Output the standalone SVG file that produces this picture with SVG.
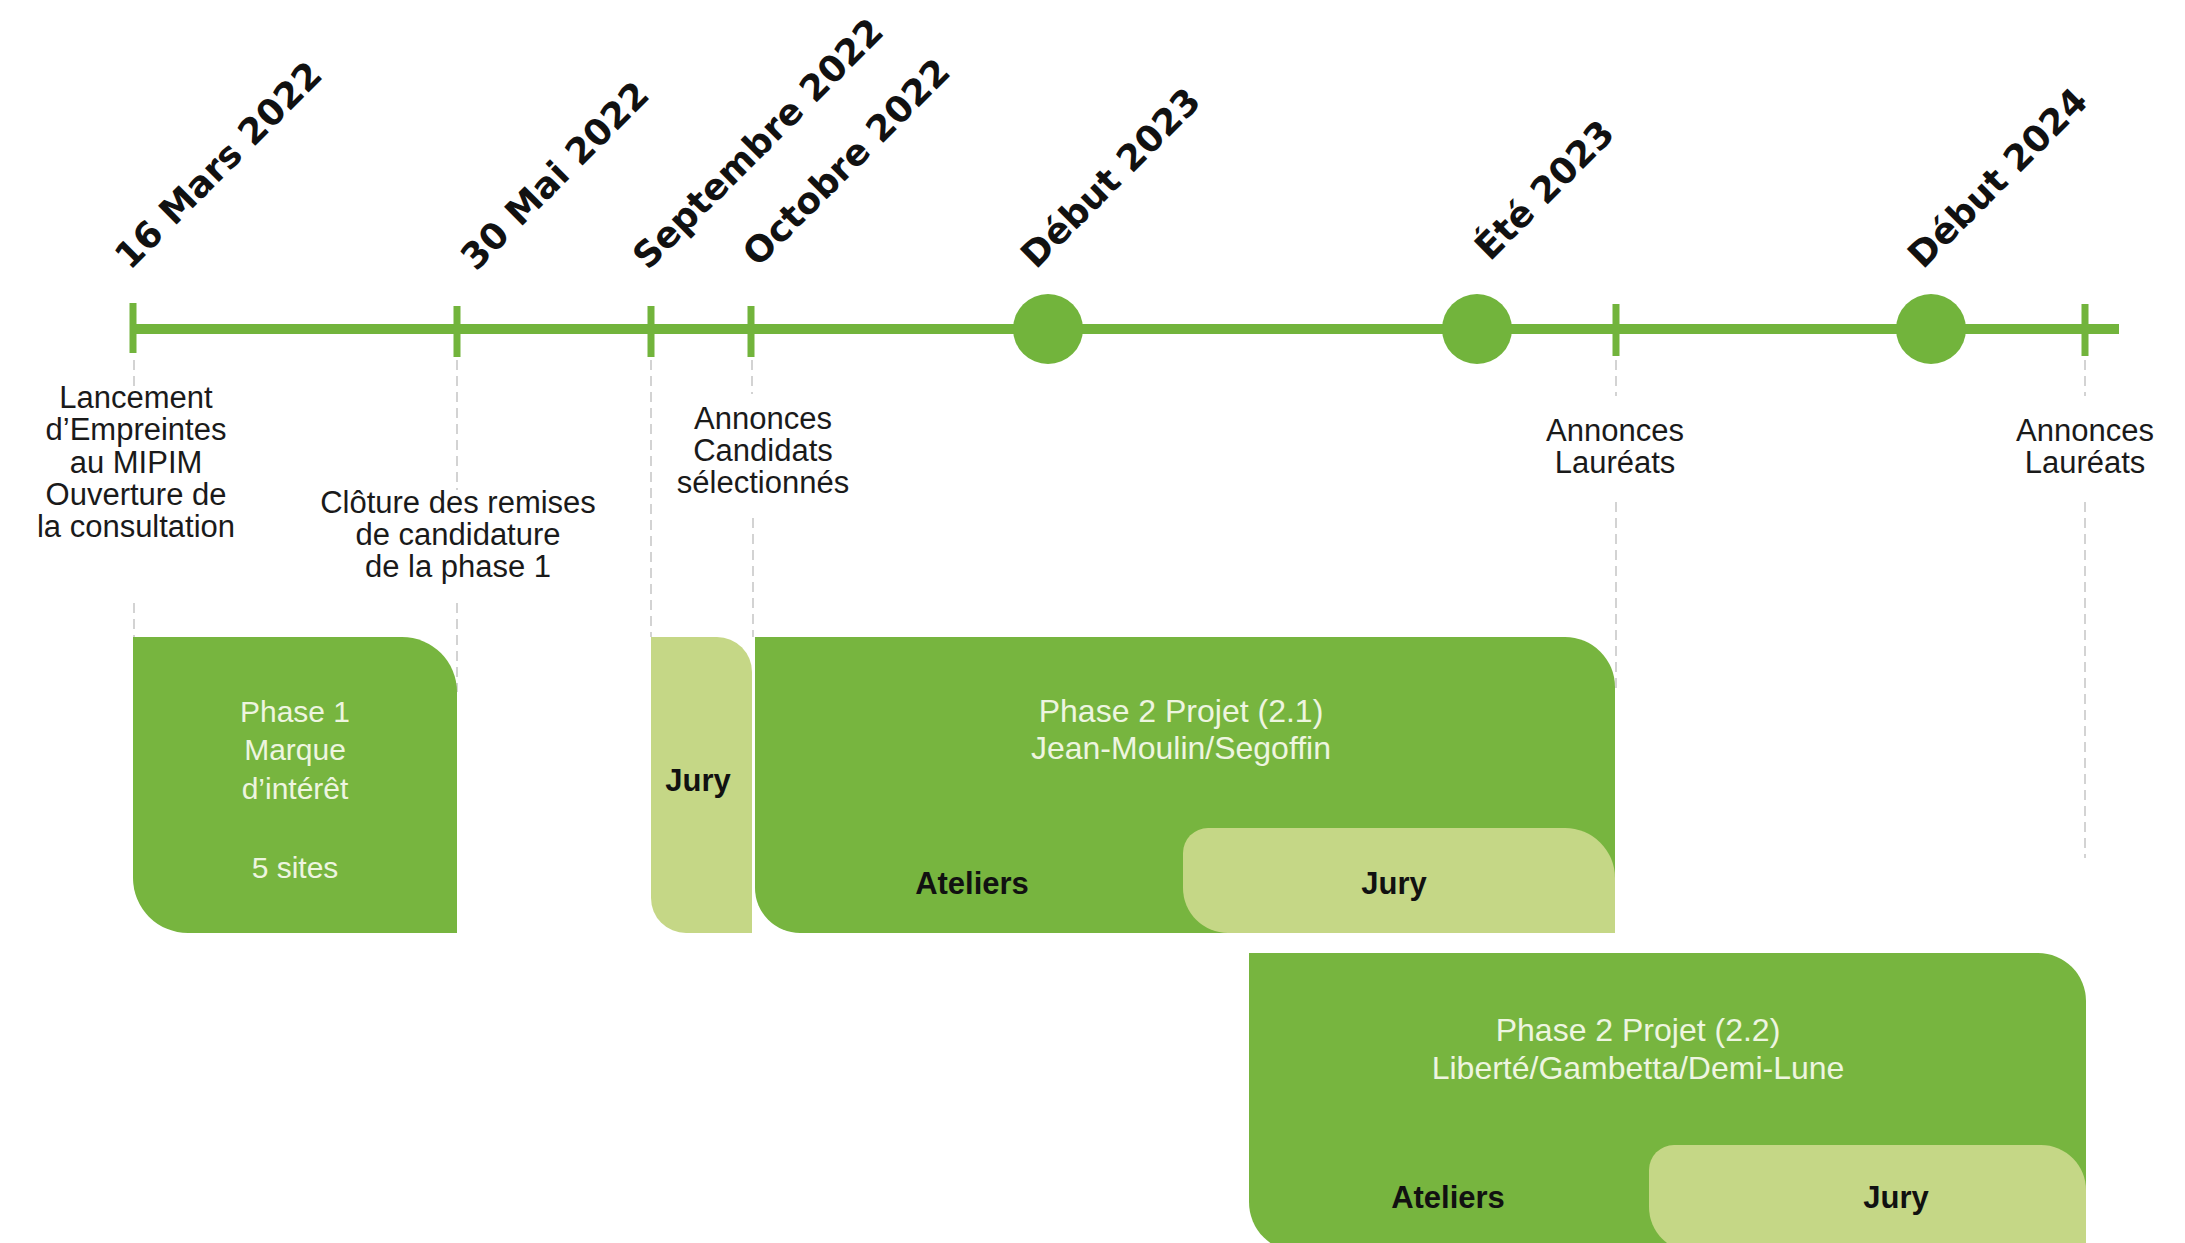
<svg xmlns="http://www.w3.org/2000/svg" width="2185" height="1243" viewBox="0 0 2185 1243">
<style>
.bg{fill:#ffffff}
.tl{stroke:#72b43c;stroke-width:10;fill:none}
.tick{fill:#72b43c}
.dot{fill:#72b43c}
.dash{stroke:#c9c9c9;stroke-width:1.6;stroke-dasharray:10 6;fill:none}
.date{font-family:"DejaVu Sans",sans-serif;font-weight:bold;font-size:36px;fill:#111111}
.desc{font-family:"Liberation Sans",Arial,sans-serif;font-size:31px;fill:#1a1a1a;text-anchor:middle}
.dark{fill:#77b53f}
.light{fill:#c5d786}
.wt{font-family:"Liberation Sans",Arial,sans-serif;font-size:30px;fill:#eef5e0;text-anchor:middle}
.wt2{font-family:"Liberation Sans",Arial,sans-serif;font-size:32px;fill:#eef5e0;text-anchor:middle}
.bt{font-family:"Liberation Sans",Arial,sans-serif;font-weight:bold;font-size:31px;fill:#111111;text-anchor:middle}
</style>
<rect class="bg" x="0" y="0" width="2185" height="1243"/>

<g id="connectors">
  <line class="dash" x1="134" y1="360" x2="134" y2="386"/>
  <line class="dash" x1="134" y1="603" x2="134" y2="637"/>
  <line class="dash" x1="457" y1="360" x2="457" y2="490"/>
  <line class="dash" x1="457" y1="603" x2="457" y2="692"/>
  <line class="dash" x1="651" y1="360" x2="651" y2="637"/>
  <line class="dash" x1="752" y1="360" x2="752" y2="394"/>
  <line class="dash" x1="753" y1="518" x2="753" y2="637"/>
  <line class="dash" x1="1616" y1="360" x2="1616" y2="396"/>
  <line class="dash" x1="1616" y1="502" x2="1616" y2="690"/>
  <line class="dash" x1="2085" y1="360" x2="2085" y2="396"/>
  <line class="dash" x1="2085" y1="502" x2="2085" y2="858"/>
</g>

<g id="timeline">
  <line class="tl" x1="132" y1="329" x2="2119" y2="329"/>
  <rect class="tick" x="129.5" y="303" width="7" height="50"/>
  <rect class="tick" x="453.5" y="306" width="7" height="51"/>
  <rect class="tick" x="647.5" y="306" width="7" height="51"/>
  <rect class="tick" x="747.5" y="306" width="7" height="51"/>
  <rect class="tick" x="1612.5" y="304" width="7" height="52"/>
  <rect class="tick" x="2081.5" y="304" width="7" height="52"/>
  <circle class="dot" cx="1048" cy="329" r="35"/>
  <circle class="dot" cx="1477" cy="329" r="35"/>
  <circle class="dot" cx="1931" cy="329" r="35"/>
</g>

<g id="dates">
  <text class="date" transform="translate(130,271) rotate(-45)">16 Mars 2022</text>
  <text class="date" transform="translate(476,272) rotate(-45)">30 Mai 2022</text>
  <text class="date" transform="translate(648,271) rotate(-45)">Septembre 2022</text>
  <text class="date" transform="translate(758,268) rotate(-45)">Octobre 2022</text>
  <text class="date" transform="translate(1036,270) rotate(-45)">Début 2023</text>
  <text class="date" transform="translate(1490,262) rotate(-45)">Été 2023</text>
  <text class="date" transform="translate(1923,270) rotate(-45)">Début 2024</text>
</g>

<g id="label-lancement">
  <text class="desc" x="136" y="408">Lancement</text>
  <text class="desc" x="136" y="440">d’Empreintes</text>
  <text class="desc" x="136" y="473">au MIPIM</text>
  <text class="desc" x="136" y="505">Ouverture de</text>
  <text class="desc" x="136" y="537">la consultation</text>
</g>
<g id="label-cloture">
  <text class="desc" x="458" y="513">Clôture des remises</text>
  <text class="desc" x="458" y="545">de candidature</text>
  <text class="desc" x="458" y="577">de la phase 1</text>
</g>
<g id="label-candidats">
  <text class="desc" x="763" y="429">Annonces</text>
  <text class="desc" x="763" y="461">Candidats</text>
  <text class="desc" x="763" y="493">sélectionnés</text>
</g>
<g id="label-laureats-1">
  <text class="desc" x="1615" y="441">Annonces</text>
  <text class="desc" x="1615" y="473">Lauréats</text>
</g>
<g id="label-laureats-2">
  <text class="desc" x="2085" y="441">Annonces</text>
  <text class="desc" x="2085" y="473">Lauréats</text>
</g>

<g id="phase1">
  <path class="dark" d="M133,637 H402 A55,55 0 0 1 457,692 V933 H188 A55,55 0 0 1 133,878 Z"/>
  <text class="wt" x="295" y="722">Phase 1</text>
  <text class="wt" x="295" y="760">Marque</text>
  <text class="wt" x="295" y="799">d’intérêt</text>
  <text class="wt" x="295" y="878">5 sites</text>
</g>

<g id="jury-candidats">
  <path class="light" d="M651,637 H717 A35,35 0 0 1 752,672 V933 H686 A35,35 0 0 1 651,898 Z"/>
  <text class="bt" x="698" y="791">Jury</text>
</g>

<g id="phase2-1">
  <path class="dark" d="M755,637 H1565 A50,50 0 0 1 1615,687 V933 H800 A45,45 0 0 1 755,888 Z"/>
  <path class="light" d="M1183,853 A25,25 0 0 1 1208,828 H1565 A50,50 0 0 1 1615,878 V933 H1228 A45,45 0 0 1 1183,888 Z"/>
  <text class="wt2" x="1181" y="722">Phase 2 Projet (2.1)</text>
  <text class="wt2" x="1181" y="759">Jean-Moulin/Segoffin</text>
  <text class="bt" x="972" y="894">Ateliers</text>
  <text class="bt" x="1394" y="894">Jury</text>
</g>

<g id="phase2-2">
  <path class="dark" d="M1249,953 H2038 A48,48 0 0 1 2086,1001 V1252 H1299 A50,50 0 0 1 1249,1202 Z"/>
  <path class="light" d="M1649,1170 A25,25 0 0 1 1674,1145 H2041 A45,45 0 0 1 2086,1190 V1252 H1694 A45,45 0 0 1 1649,1207 Z"/>
  <text class="wt2" x="1638" y="1041">Phase 2 Projet (2.2)</text>
  <text class="wt2" x="1638" y="1079">Liberté/Gambetta/Demi-Lune</text>
  <text class="bt" x="1448" y="1208">Ateliers</text>
  <text class="bt" x="1896" y="1208">Jury</text>
</g>
</svg>
